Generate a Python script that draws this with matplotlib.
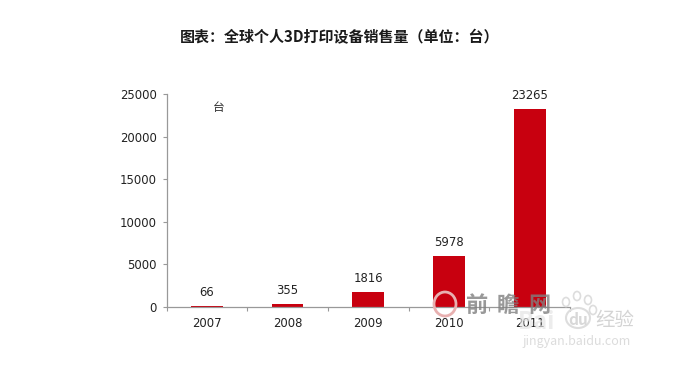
import matplotlib
matplotlib.use('Agg')
import matplotlib.pyplot as plt
from matplotlib.patches import Ellipse

plt.rcParams['font.family'] = ['Noto Sans CJK SC', 'DejaVu Sans']

years = ['2007', '2008', '2009', '2010', '2011']
sales = [66, 355, 1816, 5978, 23265]
y_ticks = [0, 5000, 10000, 15000, 20000, 25000]

W, H = 674, 366
fig = plt.figure(figsize=(W / 100, H / 100), dpi=100)
ax = fig.add_axes([166.5 / W, 1 - 307 / H, (570 - 166.5) / W, (307 - 94) / H])

x = list(range(len(years)))
ax.bar(x, sales, width=0.395, color='#c8000f', zorder=2)

# value labels sit a little above each bar
for i, v in zip(x, sales):
    ax.annotate(str(v), (i, v), xytext=(0, 5), textcoords='offset points',
                ha='center', va='bottom', fontsize=8.4, color='#222222',
                family='DejaVu Sans')

ax.set_xlim(-0.5, 4.5)
ax.set_ylim(0, 25000)
ax.set_yticks(y_ticks)
ax.set_xticks(x)
ax.set_xticklabels(years)
ax.set_xticks([i - 0.5 for i in range(len(years) + 1)], minor=True)
ax.tick_params(axis='x', which='major', length=0, pad=7, labelsize=8.4, labelcolor='#222222')
ax.tick_params(axis='x', which='minor', length=3, width=0.8, color='#999999', direction='out')
ax.tick_params(axis='y', length=3, width=0.8, color='#999999', pad=4, labelsize=8.4, labelcolor='#222222')
for label in ax.get_xticklabels() + ax.get_yticklabels():
    label.set_family('DejaVu Sans')

ax.spines['top'].set_visible(False)
ax.spines['right'].set_visible(False)
ax.spines['left'].set_color('#999999')
ax.spines['bottom'].set_color('#999999')
ax.spines['left'].set_linewidth(0.9)
ax.spines['bottom'].set_linewidth(0.9)

fig.text(340 / W, 1 - 37 / H, '图表：全球个人3D打印设备销售量（单位：台）', ha='center', va='center',
         fontsize=10.8, fontweight='bold', color='#1a1a1a')
fig.text(219 / W, 1 - 107 / H, '台', ha='center', va='center', fontsize=8.5, color='#333333')


def ring(cx, cy, w, h, color, lw=1.5, alpha=1.0):
    fig.add_artist(Ellipse((cx / W, 1 - cy / H), w / W, h / H, transform=fig.transFigure,
                           fill=False, edgecolor=color, linewidth=lw, alpha=alpha, zorder=5))


# watermarks over the bottom right corner
ring(445, 304, 22, 24, '#e8b0b0', lw=2)
for cx, ch in zip([477, 508, 539], '前瞻网'):
    fig.text(cx / W, 1 - 305 / H, ch, ha='center', va='center', fontsize=16,
             fontweight='bold', color='#808080', alpha=0.8, zorder=6)
fig.text(537 / W, 1 - 322 / H, 'Bai', ha='center', va='center', fontsize=17,
         fontweight='bold', color='#e4e4e4', alpha=0.7, zorder=5)
ring(578, 318, 24, 20, '#dddddd')
for cx, cy in [(566, 302), (577, 296), (588, 300), (593, 310)]:
    ring(cx, cy, 7, 9, '#dddddd', lw=1.2)
fig.text(578 / W, 1 - 320 / H, 'du', ha='center', va='center', fontsize=11,
         fontweight='bold', color='#d8d8d8', zorder=5)
fig.text(615 / W, 1 - 320 / H, '经验', ha='center', va='center', fontsize=14,
         color='#d4d4d4', zorder=5)
fig.text(577 / W, 1 - 342 / H, 'jingyan.baidu.com', ha='center', va='center', fontsize=9,
         color='#dcdcdc', zorder=5)

fig.savefig('out.png', dpi=100)
